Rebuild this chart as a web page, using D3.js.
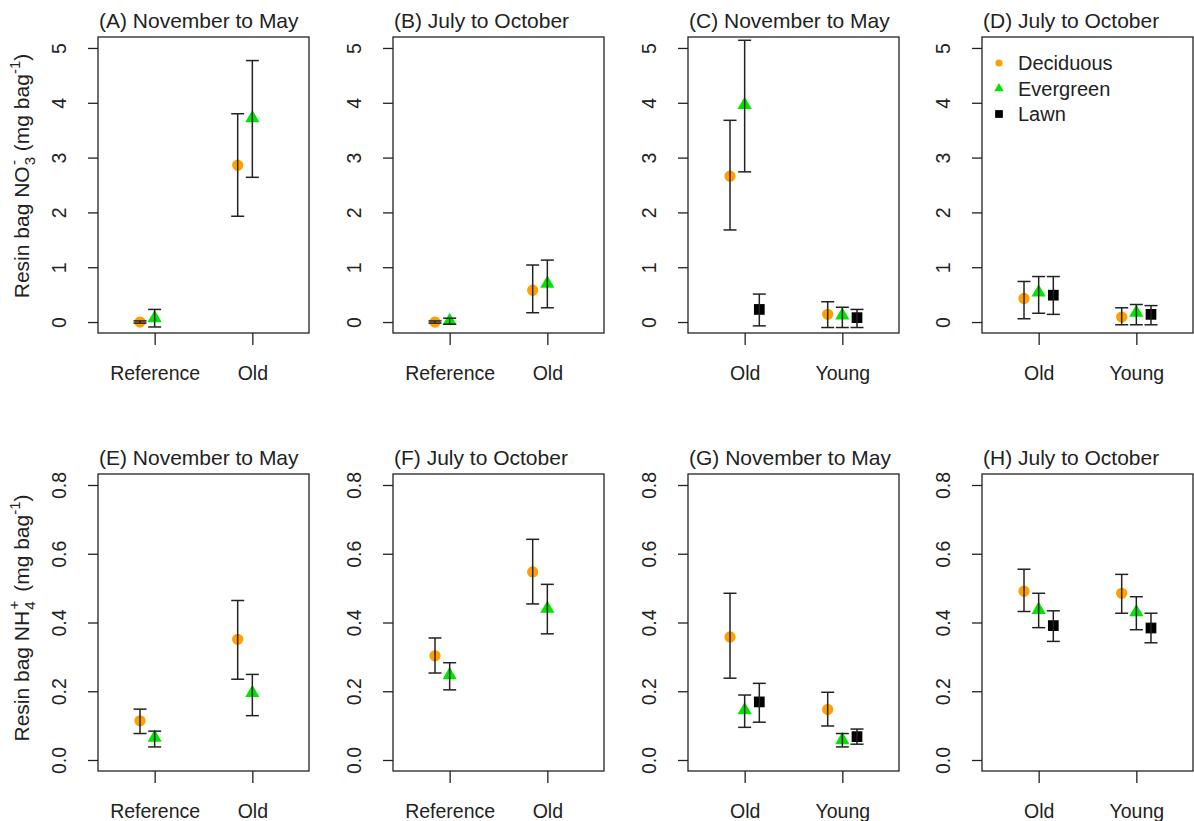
<!DOCTYPE html>
<html>
<head>
<meta charset="utf-8">
<script src="https://cdn.jsdelivr.net/npm/d3@7"></script>
<style>
  html, body { margin: 0; padding: 0; background: #fff; }
  svg { display: block; font-family: "Liberation Sans", Arial, sans-serif; }
</style>
</head>
<body>
<svg id="chart" width="1194" height="821"></svg>
<script>
// ---------------- DATA ----------------
const panelTitles = [
  "(A) November to May", "(B) July to October", "(C) November to May", "(D) July to October",
  "(E) November to May", "(F) July to October", "(G) November to May", "(H) July to October"
];
const groupsRefOld = ["Reference", "Old"];
const groupsOldYoung = ["Old", "Young"];
const panelGroups = [groupsRefOld, groupsRefOld, groupsOldYoung, groupsOldYoung,
                     groupsRefOld, groupsRefOld, groupsOldYoung, groupsOldYoung];
const seriesNames = ["Deciduous", "Evergreen", "Lawn"];
const yTicksNO3 = [0, 1, 2, 3, 4, 5];
const yTickLabelsNO3 = ["0", "1", "2", "3", "4", "5"];
const yTicksNH4 = [0, 0.2, 0.4, 0.6, 0.8];
const yTickLabelsNH4 = ["0.0", "0.2", "0.4", "0.6", "0.8"];

// means and error-bar limits, one [group1, group2] pair per panel A..H
const decMean = [[0.00, 2.86], [0.00, 0.58], [2.66, 0.14], [0.43, 0.09],
                 [0.114, 0.351], [0.303, 0.547], [0.358, 0.147], [0.491, 0.485]];
const decLow  = [[-0.02, 1.93], [-0.02, 0.17], [1.68, -0.10], [0.06, -0.05],
                 [0.077, 0.235], [0.253, 0.454], [0.238, 0.099], [0.432, 0.427]];
const decHigh = [[0.02, 3.80], [0.02, 1.04], [3.68, 0.37], [0.74, 0.26],
                 [0.148, 0.464], [0.355, 0.642], [0.485, 0.197], [0.555, 0.540]];

const evgMean = [[0.07, 3.72], [0.02, 0.70], [3.96, 0.12], [0.54, 0.17],
                 [0.065, 0.195], [0.247, 0.440], [0.145, 0.058], [0.437, 0.430]];
const evgLow  = [[-0.09, 2.64], [-0.04, 0.26], [2.74, -0.10], [0.16, -0.05],
                 [0.038, 0.129], [0.204, 0.367], [0.095, 0.038], [0.385, 0.379]];
const evgHigh = [[0.23, 4.77], [0.07, 1.13], [5.14, 0.27], [0.83, 0.32],
                 [0.084, 0.249], [0.283, 0.511], [0.189, 0.077], [0.485, 0.475]];

const lawnMean = [null, null, [0.23, 0.08], [0.49, 0.14],
                  null, null, [0.169, 0.068], [0.391, 0.384]];
const lawnLow  = [null, null, [-0.07, -0.10], [0.14, -0.05],
                  null, null, [0.110, 0.046], [0.345, 0.341]];
const lawnHigh = [null, null, [0.51, 0.23], [0.83, 0.30],
                  null, null, [0.223, 0.090], [0.434, 0.427]];

// ---------------- LAYOUT / STYLE ----------------
const panelLeft = [98, 393, 688, 982];
const panelWidth = 211;
const rowTop = [37, 474];
const rowBottom = [333, 771];
const colDec = "#FFA000", colEvg = "#00E600", colLawn = "#000000";
const ink = "#222";
const offsets = [-0.15, 0, 0.15];

const svg = d3.select("#chart");

for (let p = 0; p < 8; p++) {
  const row = p < 4 ? 0 : 1, col = p % 4;
  const left = panelLeft[col], right = left + panelWidth;
  const top = rowTop[row], bottom = rowBottom[row];
  const x = d3.scaleLinear().domain([0.42, 2.58]).range([left, right]);
  const y = row === 0
    ? d3.scaleLinear().domain([-0.2, 5.2]).range([bottom, top])
    : d3.scaleLinear().domain([-0.032, 0.832]).range([bottom, top]);
  const ticks = row === 0 ? yTicksNO3 : yTicksNH4;
  const tickLabels = row === 0 ? yTickLabelsNO3 : yTickLabelsNH4;
  const groups = panelGroups[p];
  const g = svg.append("g");

  // title (left aligned with the box)
  g.append("text").attr("x", left + 1).attr("y", top - 9)
    .attr("font-size", 21).attr("fill", ink).text(panelTitles[p]);

  // y axis
  const yAxis = d3.axisLeft(y).tickValues(ticks).tickSize(10)
    .tickFormat((d, i) => tickLabels[i]);
  const ya = g.append("g").attr("transform", `translate(${left},0)`).call(yAxis);
  ya.select(".domain").remove();
  ya.selectAll(".tick line").attr("stroke", ink).attr("stroke-width", 1.3);
  ya.selectAll(".tick text")
    .attr("transform", "rotate(-90)").attr("x", 0).attr("y", -39).attr("dy", "0.35em")
    .attr("text-anchor", "middle").attr("font-size", 19.5).attr("fill", ink)
    .attr("font-family", "Liberation Sans, Arial, sans-serif");

  // x axis
  const xAxis = d3.axisBottom(x).tickValues([1, 2]).tickSize(12)
    .tickFormat((d, i) => groups[i]);
  const xa = g.append("g").attr("transform", `translate(0,${bottom})`).call(xAxis);
  xa.select(".domain").remove();
  xa.selectAll(".tick line").attr("stroke", ink).attr("stroke-width", 1.3);
  xa.selectAll(".tick text").attr("y", 40).attr("dy", "0.35em")
    .attr("font-size", 19.5).attr("fill", ink)
    .attr("font-family", "Liberation Sans, Arial, sans-serif");

  // box
  g.append("rect").attr("x", left).attr("y", top)
    .attr("width", panelWidth).attr("height", bottom - top)
    .attr("fill", "none").attr("stroke", ink).attr("stroke-width", 1.3);

  // series
  const series = [
    { mean: decMean[p], low: decLow[p], high: decHigh[p], color: colDec, sym: d3.symbolCircle, size: 100, off: offsets[0] },
    { mean: evgMean[p], low: evgLow[p], high: evgHigh[p], color: colEvg, sym: d3.symbolTriangle, size: 88, off: offsets[1] },
    { mean: lawnMean[p], low: lawnLow[p], high: lawnHigh[p], color: colLawn, sym: d3.symbolSquare, size: 115, off: offsets[2] }
  ];
  series.forEach(s => {
    if (!s.mean) return;
    s.mean.forEach((m, i) => {
      const cx = x(i + 1 + s.off);
      g.append("path").attr("d", d3.symbol().type(s.sym).size(s.size)())
        .attr("transform", `translate(${cx},${y(m)})`).attr("fill", s.color);
    });
  });
  // error bars over points
  series.forEach(s => {
    if (!s.mean) return;
    s.mean.forEach((m, i) => {
      const cx = x(i + 1 + s.off);
      const y1 = y(s.low[i]), y2 = y(s.high[i]);
      const eb = g.append("g").attr("stroke", ink).attr("stroke-width", 1.5).attr("fill", "none");
      eb.append("line").attr("x1", cx).attr("x2", cx).attr("y1", y1).attr("y2", y2);
      eb.append("line").attr("x1", cx - 6.5).attr("x2", cx + 6.5).attr("y1", y1).attr("y2", y1);
      eb.append("line").attr("x1", cx - 6.5).attr("x2", cx + 6.5).attr("y1", y2).attr("y2", y2);
    });
  });

  // legend in panel D
  if (p === 3) {
    const legSyms = [d3.symbolCircle, d3.symbolTriangle, d3.symbolSquare];
    const legSizes = [40, 40, 60];
    const legCols = [colDec, colEvg, colLawn];
    seriesNames.forEach((name, k) => {
      const ly = 63 + k * 25.5;
      g.append("path").attr("d", d3.symbol().type(legSyms[k]).size(legSizes[k])())
        .attr("transform", `translate(${left + 17},${ly})`).attr("fill", legCols[k]);
      g.append("text").attr("x", left + 36).attr("y", ly).attr("dy", "0.35em")
        .attr("font-size", 20).attr("fill", ink).text(name);
    });
  }
}

// y axis labels
function yLabel(cy, ion, sub, sup) {
  const t = svg.append("text").attr("transform", `translate(22,${cy}) rotate(-90)`)
    .attr("text-anchor", "middle").attr("dy", "0.35em")
    .attr("font-size", 21).attr("fill", ink);
  t.append("tspan").text("Resin bag " + ion);
  t.append("tspan").attr("font-size", 15).attr("dx", 1).attr("dy", 6).text(sub);
  t.append("tspan").attr("font-size", 15).attr("dx", -8).attr("dy", -16).text(sup);
  t.append("tspan").attr("dx", 3).attr("dy", 10).text(" (mg bag");
  t.append("tspan").attr("font-size", 15).attr("dy", -9).text("-1");
  t.append("tspan").attr("dy", 9).text(")");
}
yLabel(176, "NO", "3", "-");
yLabel(618, "NH", "4", "+");
</script>
</body>
</html>
